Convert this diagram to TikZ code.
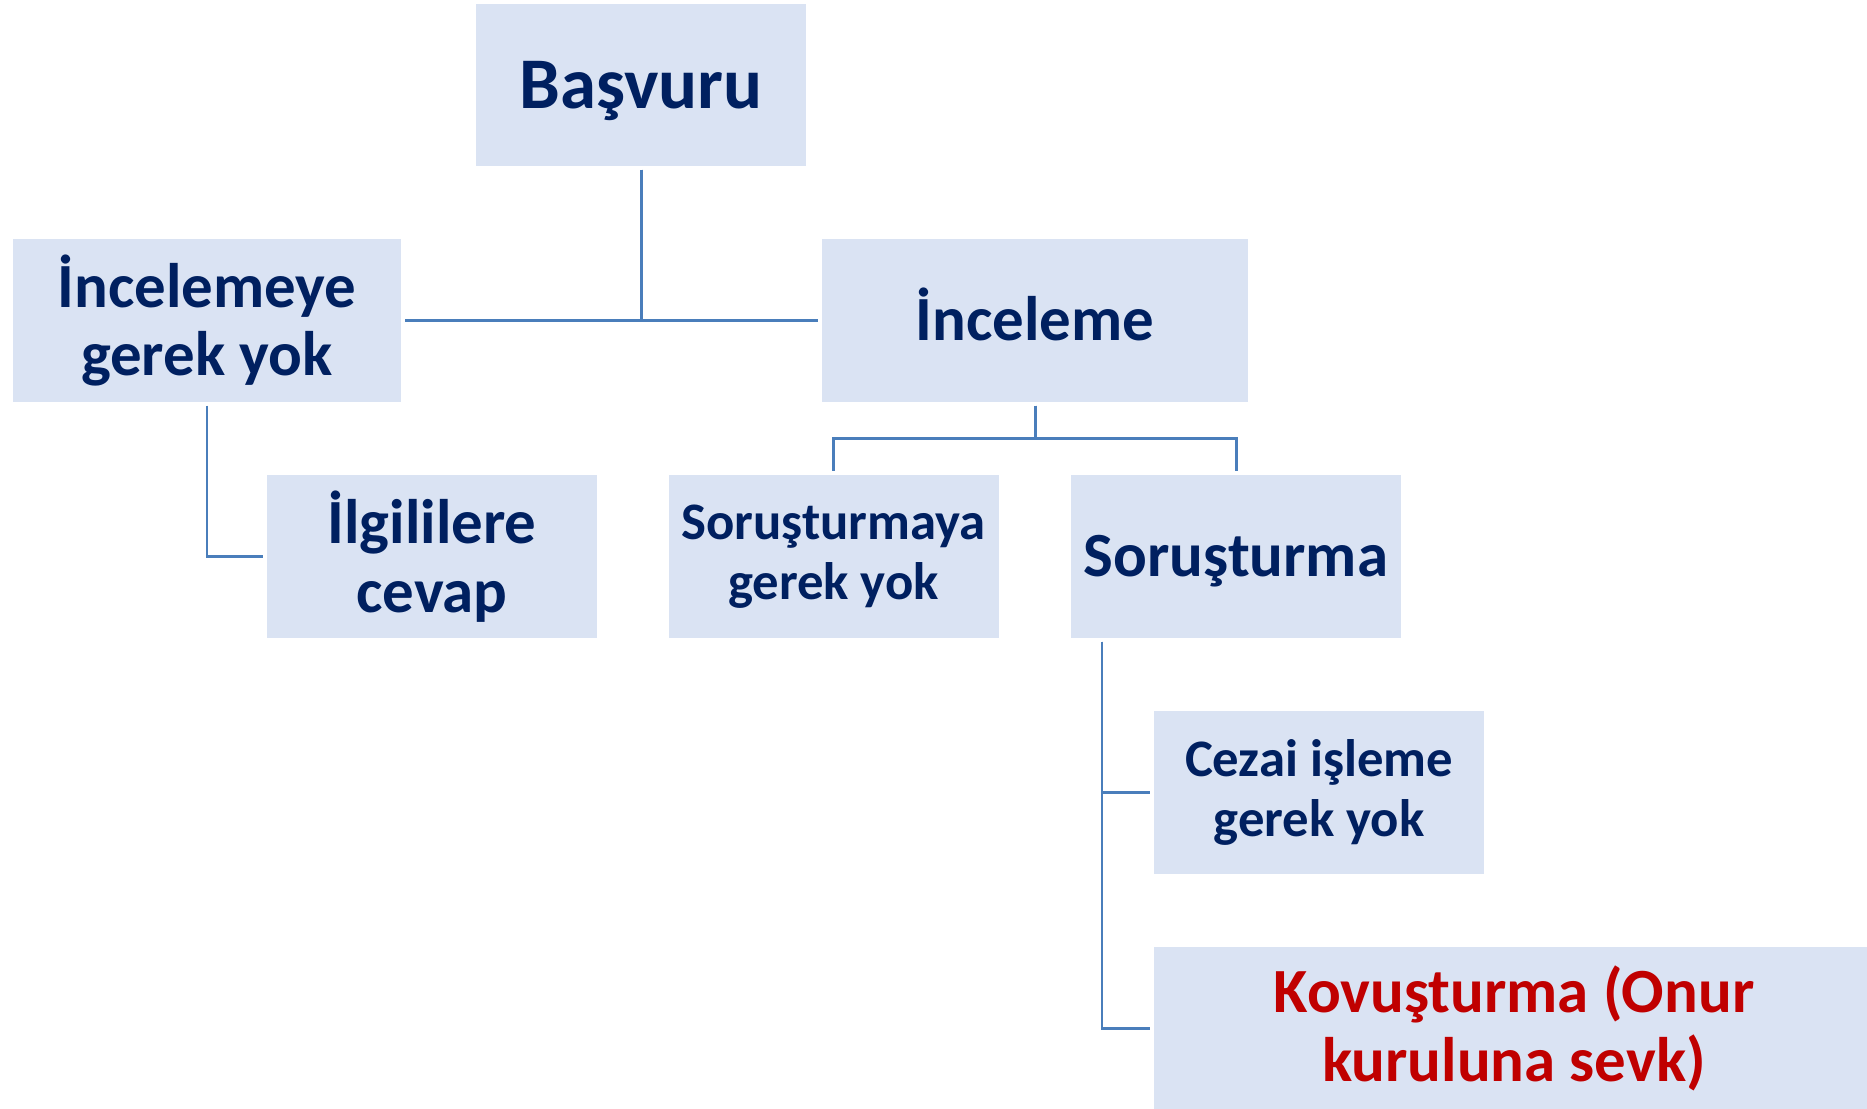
\documentclass[tikz,border=0pt]{standalone}
\usepackage{fontspec}
\setmainfont{Carlito}
\usetikzlibrary{calc}
\definecolor{boxfill}{HTML}{DAE3F3}
\definecolor{linkblue}{HTML}{4A7EBB}
\definecolor{textnavy}{HTML}{002060}
\definecolor{textred}{HTML}{C00000}

\begin{document}
\begin{tikzpicture}[
		box/.style={fill=boxfill, inner sep=0pt, outer sep=1pt, minimum width=3.30cm, minimum height=1.63cm,
			align=center, text=textnavy, font=\bfseries\fontsize{17.9}{19.6}\selectfont},
		oneline/.style={text height=0.47cm, text depth=0.06cm},
		big/.style={font=\bfseries\fontsize{20.7}{22}\selectfont, text height=0.55cm, text depth=0.07cm},
		small/.style={font=\bfseries\fontsize{15}{17}\selectfont},
		link/.style={draw=linkblue, line width=0.85pt}
	]
		\useasboundingbox (0,0) rectangle (18.67,-11.09);
		\clip (0,0) rectangle (18.67,-11.09);

		\node[box, big, minimum height=1.62cm] (basvuru) at (6.41,-0.85) {Başvuru};
		\node[box, minimum width=3.88cm] (incyok) at (2.07,-3.205) {İncelemeye\\gerek yok};
		\node[box, oneline, minimum width=4.26cm] (inceleme) at (10.35,-3.205) {İnceleme};
		\node[box] (ilgili) at (4.32,-5.565) {İlgililere\\cevap};
		\node[box, small] (soryok) at (8.335,-5.565) {Soruşturmaya\\gerek yok};
		\node[box, oneline] (sor) at (12.36,-5.565) {Soruşturma};
		\node[box, small] (cezai) at (13.19,-7.925) {Cezai işleme\\gerek yok};
		\node[box, minimum width=7.20cm, text=textred] (kov) at (15.14,-10.285) {Kovuşturma (Onur\\kuruluna sevk)};

		% Connectors
		\draw[link] (basvuru.south) |- (incyok.east);
		\draw[link] (basvuru.south) |- (inceleme.west);
		\draw[link] (incyok.south) |- (ilgili.west);
		\draw[link] (inceleme.south) -- ++(0,-0.33) -| (soryok.north);
		\draw[link] (inceleme.south) -- ++(0,-0.33) -| (sor.north);
		\draw[link] ([xshift=0.345cm]sor.south west) |- (cezai.west);
		\draw[link] ([xshift=0.345cm]sor.south west) |- (kov.west);
	\end{tikzpicture}
\end{document}
